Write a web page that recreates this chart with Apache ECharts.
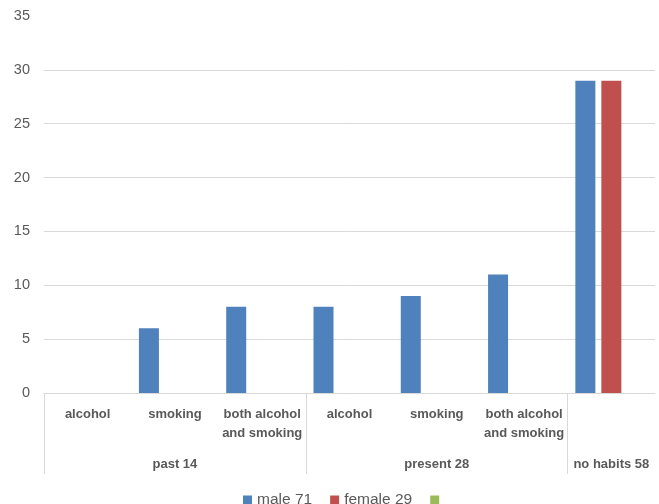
<!DOCTYPE html>
<html>
<head>
<meta charset="utf-8">
<script src="https://cdn.jsdelivr.net/npm/echarts@6/dist/echarts.min.js"></script>
<style>
  html, body { margin: 0; padding: 0; background: #fff; }
  #chart { width: 659px; height: 504px; }
</style>
</head>
<body>
<div id="chart"></div>
<script>
// Habit categories (inner level) and their groups (outer level)
const categories = ['alcohol', 'smoking', 'both alcohol\nand smoking', 'alcohol', 'smoking', 'both alcohol\nand smoking', ''];
const groupNames = ['past 14', 'present 28', 'no habits 58'];
const groupStarts = [0, 3, 6];   // index of the first category in each group
const groupCenters = [1.5, 4.5, 6.5];

const seriesNames = ['male 71', 'female 29', ' '];
const maleValues = [0, 6, 8, 8, 9, 11, 29];
const femaleValues = [0, 0, 0, 0, 0, 0, 29];
const otherValues = [null, null, null, null, null, null, null];

const yTicks = { min: 0, max: 35, interval: 5 };

const textColor = '#595959';
const gridColor = '#D9D9D9';
const labelFont = 'Liberation Sans';

// gridline colours per tick: the top line (at max) is left undrawn
const tickCount = (yTicks.max - yTicks.min) / yTicks.interval + 1;
const splitColors = [];
for (let i = 0; i < tickCount; i++) splitColors.push(i === tickCount - 1 ? 'rgba(0,0,0,0)' : gridColor);

const chart = echarts.init(document.getElementById('chart'), null, { renderer: 'canvas' });

chart.setOption({
  animation: false,
  color: ['#4F81BD', '#C0504D', '#9BBB59'],
  grid: { left: 44, right: 4, top: 16, bottom: 111, containLabel: false },
  legend: {
    data: seriesNames,
    left: 238,
    top: 487,
    icon: 'rect',
    itemWidth: 9,
    itemHeight: 9,
    itemGap: 18,
    textStyle: { color: textColor, fontSize: 15.5, fontFamily: labelFont }
  },
  xAxis: [
    {
      type: 'category',
      data: categories,
      boundaryGap: true,
      axisLine: { show: true, lineStyle: { color: gridColor, width: 1 } },
      axisTick: { show: false },
      axisLabel: {
        interval: 0,
        margin: 11.5,
        color: textColor,
        fontSize: 13,
        fontWeight: 'bold',
        fontFamily: labelFont,
        lineHeight: 19
      },
      splitLine: { show: false }
    },
    {
      // outer level: group separators and group names
      type: 'value',
      min: 0,
      max: categories.length,
      position: 'bottom',
      axisLine: { show: false },
      axisTick: {
        show: true,
        customValues: groupStarts,
        length: 81,
        lineStyle: { color: gridColor, width: 1 }
      },
      axisLabel: {
        customValues: groupCenters,
        margin: 64.5,
        color: textColor,
        fontSize: 13,
        fontWeight: 'bold',
        fontFamily: labelFont,
        formatter: function (v) {
          const i = groupCenters.indexOf(v);
          return i >= 0 ? groupNames[i] : '';
        }
      },
      splitLine: { show: false }
    }
  ],
  yAxis: {
    type: 'value',
    min: yTicks.min,
    max: yTicks.max,
    interval: yTicks.interval,
    axisLine: { show: false },
    axisTick: { show: false },
    axisLabel: { color: textColor, fontSize: 14.5, fontFamily: labelFont, margin: 14 },
    splitLine: { lineStyle: { color: splitColors, width: 1 } }
  },
  series: [
    { name: seriesNames[0], type: 'bar', xAxisIndex: 0, data: maleValues, barGap: '30%', barCategoryGap: '17.5%' },
    { name: seriesNames[1], type: 'bar', xAxisIndex: 0, data: femaleValues, barGap: '30%', barCategoryGap: '17.5%' },
    { name: seriesNames[2], type: 'bar', xAxisIndex: 0, data: otherValues, barGap: '30%', barCategoryGap: '17.5%' }
  ]
});
</script>
</body>
</html>
